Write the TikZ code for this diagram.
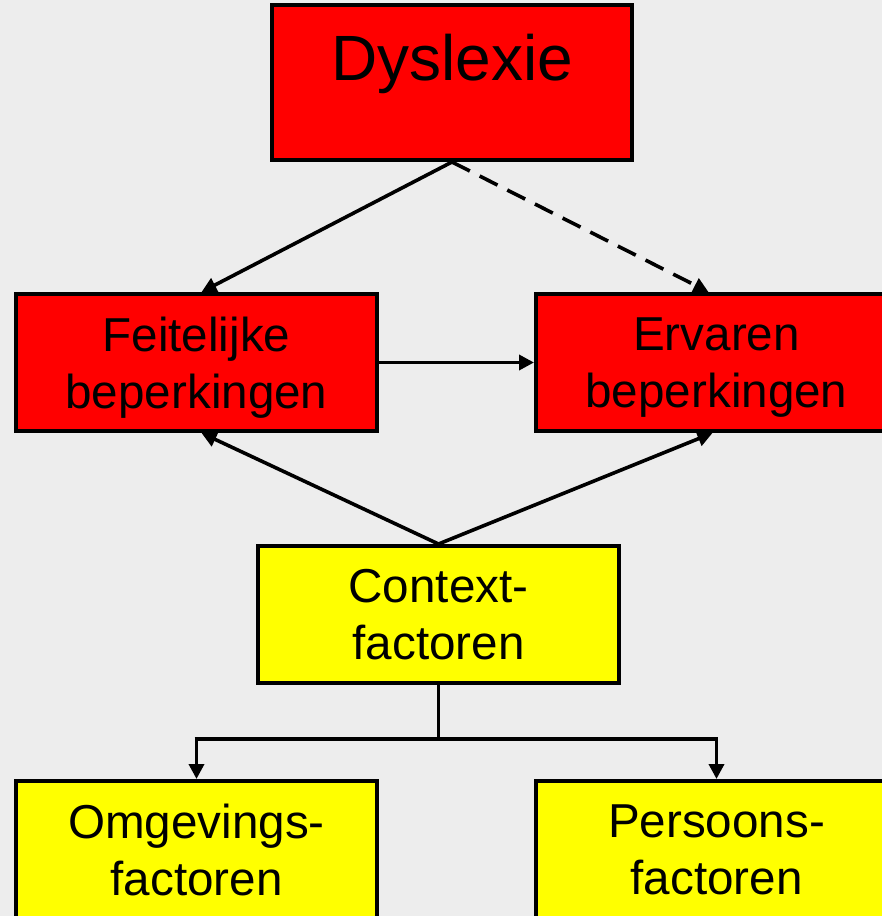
\documentclass[tikz,border=0pt]{standalone}
\usepackage{fontspec}
\setmainfont{Liberation Sans}
\usetikzlibrary{arrows.meta,calc}
\definecolor{bg}{HTML}{EDEDED}
\definecolor{boxred}{HTML}{FF0000}
\definecolor{boxyellow}{HTML}{FFFF00}
\begin{document}
\begin{tikzpicture}[x=1pt,y=-1pt,
  box/.style={draw=black,line width=4pt,minimum width=361pt,minimum height=137pt,
    inner sep=0pt,align=center,text depth=-6pt,font=\fontsize{47.6}{57}\selectfont},
  redbox/.style={box,fill=boxred},
  yelbox/.style={box,fill=boxyellow},
  conn/.style={line width=3.6pt,-{Triangle[length=15pt,width=15pt]}},
  plain/.style={line width=3.6pt}]
\useasboundingbox (0,0) rectangle (882,916);
\fill[bg] (0,0) rectangle (882,916);
\begin{scope}
\clip (0,0) rectangle (882,916);
\node[redbox,text depth=0pt,minimum width=360pt,minimum height=155pt] (dys) at (452,82.5) {};
\node[font=\fontsize{64}{70}\selectfont,anchor=base,inner sep=0pt] (dyst) at (452,80) {Dyslexie};
\node[redbox] (feit) at (196.5,362.5) {Feitelijke\\beperkingen};
\node[redbox] (erv) at (716.5,362.5) {Ervaren\\beperkingen};
\node[yelbox] (ctx) at (438.5,614.5) {Context-\\factoren};
\node[yelbox] (omg) at (196.5,849.5) {Omgevings-\\factoren};
\node[yelbox] (pers) at (716.5,849.5) {Persoons-\\factoren};
\coordinate (split) at ($(ctx.south)+(0,54)$);
\coordinate (lft) at (split -| omg.north);
\coordinate (rgt) at (split -| pers.north);
\draw[conn] (dys.south) -- ($(feit.north)+(5,0)$);
\draw[conn,dash pattern=on 20pt off 11pt] (dys.south) -- ($(erv.north)+(-8,0)$);
\draw[conn] (feit.east) -- (erv.west);
\draw[conn] (ctx.north) -- ($(feit.south)+(5,0)$);
\draw[conn] (ctx.north) -- ($(erv.south)+(-4,0)$);
\draw[plain] (ctx.south) -- (split);
\draw[plain] ($(lft)+(-1.8,0)$) -- ($(rgt)+(1.8,0)$);
\draw[conn] (lft) -- (omg.north);
\draw[conn] (rgt) -- (pers.north);
\end{scope}
\end{tikzpicture}
\end{document}
